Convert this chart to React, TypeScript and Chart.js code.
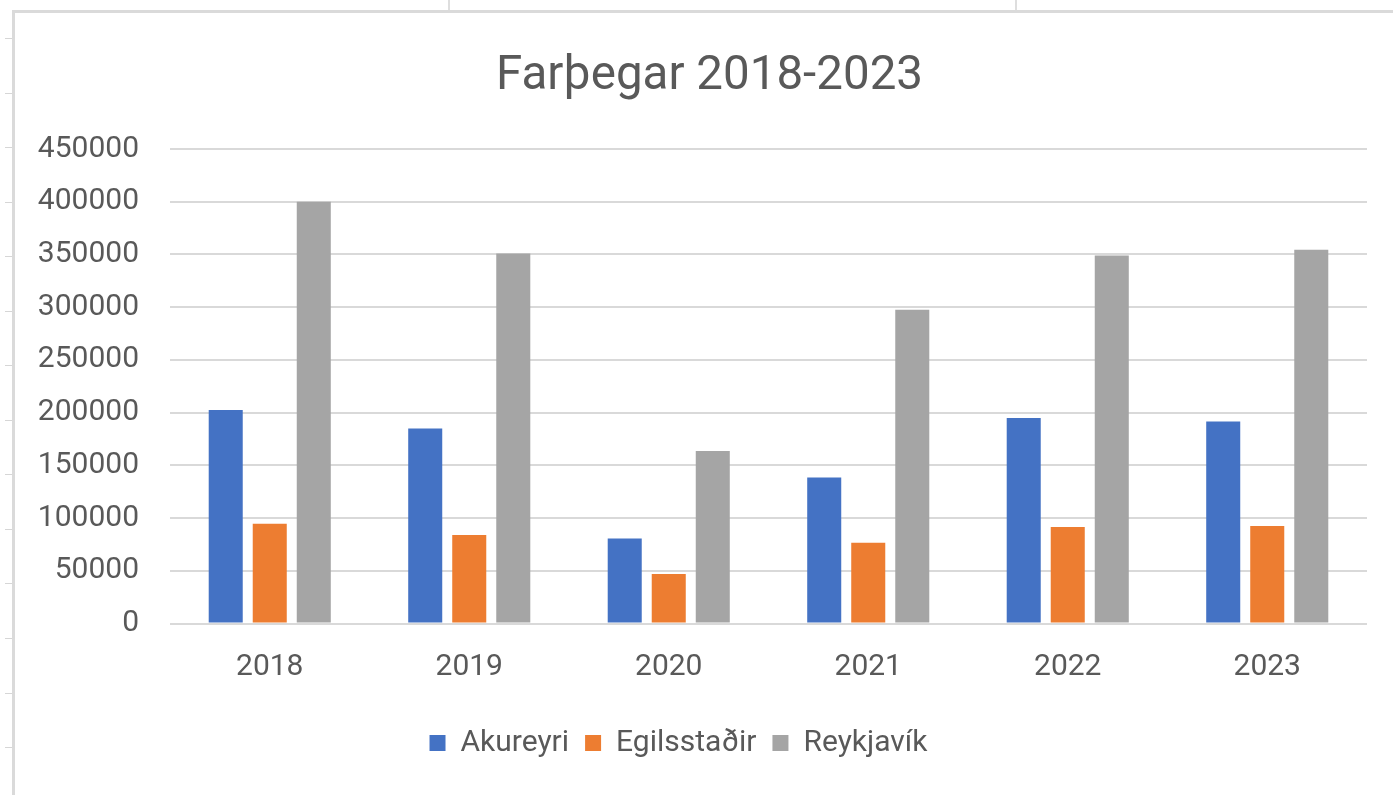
import React, { useEffect, useRef } from "react";
import { Chart, registerables } from "chart.js";

Chart.register(...registerables);

const titleText = "Farþegar 2018-2023";
const years = ["2018", "2019", "2020", "2021", "2022", "2023"];
const seriesNames = ["Akureyri", "Egilsstaðir", "Reykjavík"];
const akureyri = [202500, 185000, 80500, 138500, 195000, 191500];
const egilsstadir = [94500, 84000, 47000, 76500, 91500, 92500];
const reykjavik = [400000, 351000, 163500, 297500, 349000, 354500];
const yMin = 0;
const yMax = 450000;
const yStep = 50000;

const seriesColors = ["#4472C4", "#ED7D31", "#A5A5A5"];
const textColor = "#595959";
const gridColor = "#d9d9d9";
const FONT = "Roboto, 'Open Sans', sans-serif";

const rowMarks = [38, 93, 147, 202, 256, 311, 365, 420, 474, 529, 583, 638, 693, 747];

const boxShift = {
  id: "boxShift",
  afterLayout(chart: any) {
    const l = chart.legend;
    if (l) {
      l.left -= 24;
      l.right -= 24;
    }
    const t = chart.titleBlock;
    if (t) {
      t.left += 7;
      t.right += 7;
    }
  },
};

export default function App() {
  const canvasRef = useRef<HTMLCanvasElement | null>(null);

  useEffect(() => {
    const canvas = canvasRef.current;
    if (!canvas) return;
    const values = [akureyri, egilsstadir, reykjavik];
    const chart = new Chart(canvas, {
      type: "bar",
      data: {
        labels: years,
        datasets: seriesNames.map((name, i) => ({
          label: name,
          data: values[i],
          backgroundColor: seriesColors[i],
          borderWidth: 0,
          categoryPercentage: 0.662,
          barPercentage: 0.773,
        })),
      },
      plugins: [boxShift],
      options: {
        responsive: false,
        animation: false,
        devicePixelRatio: 1,
        layout: { padding: { left: 23, right: 37, top: 0, bottom: 27 } },
        plugins: {
          title: {
            display: true,
            text: titleText,
            color: textColor,
            font: { family: FONT, size: 47.5, weight: "normal" as any },
            padding: { top: 36, bottom: 43 },
          },
          legend: {
            display: true,
            position: "bottom",
            labels: {
              color: textColor,
              font: { family: FONT, size: 30 },
              boxWidth: 16,
              boxHeight: 16,
              padding: 16,
            },
          },
          tooltip: { enabled: false },
        },
        scales: {
          x: {
            grid: { display: false, drawTicks: false },
            border: { display: false },
            ticks: {
              color: textColor,
              font: { family: FONT, size: 30 },
              padding: 26,
              maxRotation: 0,
            },
            afterFit: (s: any) => {
              s.height = 88.5;
            },
          },
          y: {
            min: yMin,
            max: yMax,
            grid: { color: gridColor, lineWidth: 2, drawTicks: false },
            border: { display: false },
            ticks: {
              stepSize: yStep,
              color: textColor,
              font: { family: FONT, size: 30 },
              padding: 31,
              callback: (v: any) => String(v),
            },
            afterFit: (s: any) => {
              s.width = 132;
            },
          },
        },
      },
    });
    return () => chart.destroy();
  }, []);

  return (
    <div
      style={{
        position: "fixed",
        left: 0,
        top: 0,
        width: 1393,
        height: 795,
        overflow: "hidden",
        background: "#ffffff",
      }}
    >
      <div style={{ position: "absolute", left: 448, top: 0, width: 2, height: 10, background: "#dedede" }} />
      <div style={{ position: "absolute", left: 1015, top: 0, width: 2, height: 10, background: "#dedede" }} />
      {rowMarks.map((y) => (
        <div key={y} style={{ position: "absolute", left: 5, top: y, width: 7, height: 1, background: "#d6d6d6" }} />
      ))}
      <div style={{ position: "absolute", left: 12, top: 10, width: 1381, height: 3, background: "#dadada" }} />
      <div style={{ position: "absolute", left: 12, top: 10, width: 3, height: 785, background: "#dadada" }} />
      <canvas
        ref={canvasRef}
        width={1389}
        height={782}
        style={{ position: "absolute", left: 15, top: 13, width: 1389, height: 782 }}
      />
    </div>
  );
}
